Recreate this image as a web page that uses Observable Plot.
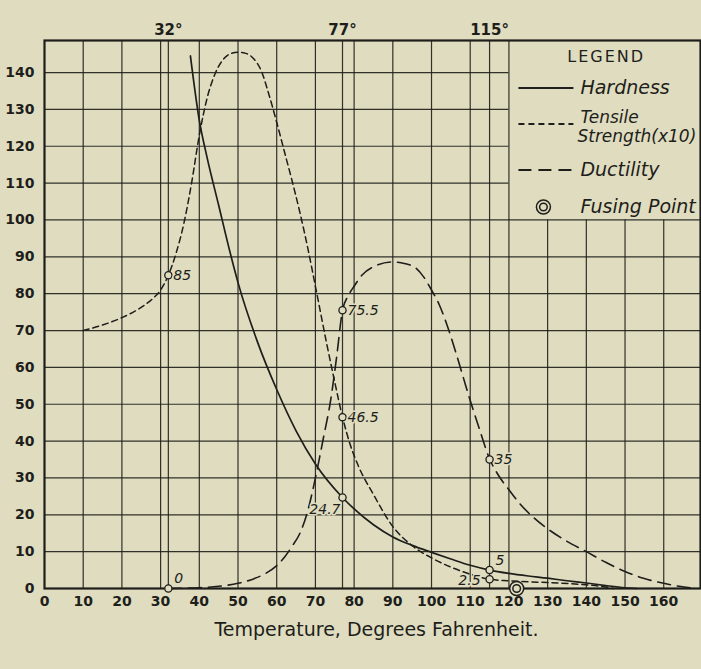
<!DOCTYPE html>
<html><head><meta charset="utf-8">
<script src="https://cdn.jsdelivr.net/npm/d3@7"></script>
<script src="https://cdn.jsdelivr.net/npm/@observablehq/plot@0.6"></script>
<style>
html,body{margin:0;padding:0;background:#dfdcc0;}
#chart svg{display:block;}
</style>
</head><body><div id="chart"></div>
<script>
// ---- data ----
const hardnessT = [37.7, 40, 42, 45, 48, 50, 55, 60, 65, 70, 77, 80, 85, 90, 95, 100, 105, 110, 115, 120, 125, 130, 135, 140, 145, 150, 153];
const hardnessV = [144.5, 127, 117, 104, 91, 83, 67, 54, 42.8, 33.8, 24.7, 21.6, 17.3, 14, 11.7, 9.8, 8.0, 6.3, 5, 4.1, 3.4, 2.8, 2.1, 1.5, 0.8, 0.2, 0];

const tensileT = [10, 15, 20, 25, 28, 30, 32, 34, 36, 38, 40, 42, 44, 46, 48, 50, 52, 54, 56, 58, 60, 62, 64, 66, 68, 70, 73, 75, 77, 79, 81, 85, 90, 95, 100, 105, 110, 115, 120, 130, 140, 145, 147];
const tensileV = [70, 71.5, 73.5, 76.3, 78.7, 81, 85, 91, 99, 110, 123, 133, 139.5, 143.3, 145.1, 145.5, 145.2, 143.8, 140.5, 134, 126.5, 118.5, 110.5, 102, 92.5, 82, 66, 56, 46.5, 39, 33.5, 25.5, 16.8, 11.6, 8.3, 5.8, 3.9, 2.5, 2.1, 1.6, 1, 0.4, 0];

const ductilityT = [32, 40, 45, 50, 54, 57, 60, 62, 64, 66, 68, 70, 72, 74, 75.5, 77, 78.5, 80, 82, 85, 90, 93, 96, 98, 100, 102, 104, 106, 108, 110, 112, 115, 117, 120, 123, 126, 130, 135, 140, 145, 150, 155, 160, 164, 168];
const ductilityV = [0, 0.2, 0.6, 1.4, 2.6, 4, 6.2, 8.5, 11.5, 15, 21, 30, 40.5, 51.5, 63, 75.5, 79.5, 82, 85, 87.3, 88.6, 88.2, 86.9, 84.5, 81, 77, 71.5, 65, 58, 51, 44.5, 35.2, 31.2, 26.8, 22.8, 19.6, 16.2, 12.8, 10, 7.1, 4.6, 2.7, 1.4, 0.6, 0];

const annoT = [32, 32, 77, 77, 77, 115, 115, 115];
const annoV = [85, 0, 75.5, 46.5, 24.7, 35, 5, 2.5];
const annoLabel = ["85", "0", "75.5", "46.5", "24.7", "35", "5", "2.5"];

const fusingT = [122];
const fusingV = [0];

const xTicks = [0, 10, 20, 30, 40, 50, 60, 70, 80, 90, 100, 110, 120, 130, 140, 150, 160];
const topTicks = [32, 77, 115];
const yTicks = [0, 10, 20, 30, 40, 50, 60, 70, 80, 90, 100, 110, 120, 130, 140];
const extraGridX = [32, 77, 115];

const legendNames = ["Hardness", "Tensile|Strength(x10)", "Ductility", "Fusing Point"];
const titleText = "Temperature, Degrees Fahrenheit.";

// ---- build ----
const bg = "#dfdcc0", ink = "#1e1e1a";
const zip = (T, V) => T.map((t, i) => ({t, v: V[i]}));
const hardness = zip(hardnessT, hardnessV);
const tensile = zip(tensileT, tensileV);
const ductility = zip(ductilityT, ductilityV);
const annos = annoT.map((t, i) => ({t, v: annoV[i], label: annoLabel[i]}));
const fusing = zip(fusingT, fusingV);

const legendX = 120, legendY = 100;
const gridX = xTicks.filter(d => d > 0).concat(extraGridX);
const gridY = yTicks.filter(d => d > 0);

const place = {
  right: d => ["85", "75.5", "46.5", "35"].includes(d.label),
  upright: d => ["0", "5"].includes(d.label),
  leftbelow: d => d.label === "24.7",
  left: d => d.label === "2.5"
};
const annoFont = {fontSize: 14, fontStyle: "italic", fill: ink, stroke: bg, strokeWidth: 3, paintOrder: "stroke"};
const gridStyle = {stroke: ink, strokeWidth: 1.2, strokeOpacity: 0.9};

const plot = Plot.plot({
  width: 701, height: 669,
  marginLeft: 44, marginRight: 1, marginTop: 40, marginBottom: 81,
  x: {domain: [0, 169.5]},
  y: {domain: [0, 148.7]},
  style: {background: bg, color: ink, fontFamily: "DejaVu Sans, sans-serif", fontSize: "14px", overflow: "visible"},
  marks: [
    // grid
    Plot.ruleX(gridX.filter(d => d <= legendX), {x: d => d, ...gridStyle}),
    Plot.ruleX(gridX.filter(d => d > legendX), {x: d => d, y1: 0, y2: legendY, ...gridStyle}),
    Plot.ruleY(gridY.filter(d => d <= legendY), {y: d => d, ...gridStyle}),
    Plot.ruleY(gridY.filter(d => d > legendY), {y: d => d, x1: 0, x2: legendX, ...gridStyle}),
    Plot.frame({stroke: ink, strokeWidth: 2.2}),
    // curves
    Plot.line(hardness, {x: "t", y: "v", curve: "monotone-x", stroke: ink, strokeWidth: 1.7}),
    Plot.line(tensile, {x: "t", y: "v", curve: "monotone-x", stroke: ink, strokeWidth: 1.5, strokeDasharray: "6,4"}),
    Plot.line(ductility, {x: "t", y: "v", curve: "monotone-x", stroke: ink, strokeWidth: 1.6, strokeDasharray: "13,7"}),
    // annotation points
    Plot.dot(annos, {x: "t", y: "v", r: 3.6, fill: bg, stroke: ink, strokeWidth: 1.3}),
    Plot.text(annos.filter(place.right), {x: "t", y: "v", text: "label", dx: 5, textAnchor: "start", ...annoFont}),
    Plot.text(annos.filter(place.upright), {x: "t", y: "v", text: "label", dx: 6, dy: -10, textAnchor: "start", ...annoFont}),
    Plot.text(annos.filter(place.leftbelow), {x: "t", y: "v", text: "label", dx: -2, dy: 12, textAnchor: "end", ...annoFont}),
    Plot.text(annos.filter(place.left), {x: "t", y: "v", text: "label", dx: -9, dy: 1, textAnchor: "end", ...annoFont}),
    // fusing point
    Plot.dot(fusing, {x: "t", y: "v", r: 7, fill: bg, stroke: ink, strokeWidth: 1.5}),
    Plot.dot(fusing, {x: "t", y: "v", r: 3.8, fill: "none", stroke: ink, strokeWidth: 1.5}),
    // axes
    Plot.axisX({anchor: "bottom", ticks: xTicks, tickSize: 0, tickPadding: 8, label: null, fontSize: 14, fontWeight: 600}),
    Plot.axisX({anchor: "top", ticks: topTicks, tickSize: 0, tickPadding: 6, label: null, tickFormat: d => d + "°", fontSize: 15, fontWeight: 600}),
    Plot.axisY({anchor: "left", ticks: yTicks, tickSize: 0, tickPadding: 10, label: null, fontSize: 14, fontWeight: 600}),
    Plot.text([titleText], {frameAnchor: "bottom", dy: 47, dx: 4, fontSize: 19, fill: ink})
  ]
});

// ---- legend (drawn inside the reserved box) ----
const sx = plot.scale("x"), sy = plot.scale("y");
const L = sx.apply(legendX), T = sy.apply(sy.domain[1]), R = sx.apply(sx.domain[1]);
const svg = d3.select(plot);
const g = svg.append("g").attr("fill", ink).attr("font-family", "DejaVu Sans, sans-serif").attr("text-anchor", "start");
g.append("text").attr("x", (L + R) / 2 + 2).attr("y", T + 17).attr("dominant-baseline", "middle")
  .attr("text-anchor", "middle").attr("font-size", 16).attr("letter-spacing", 2).text("LEGEND");
const rows = [
  {y: T + 48, dash: null},
  {y: T + 84, dash: "6,4"},
  {y: T + 130, dash: "13,7"},
  {y: T + 167, dash: "ring"}
];
legendNames.forEach((name, i) => {
  const r = rows[i];
  if (r.dash === "ring") {
    g.append("circle").attr("cx", L + 35).attr("cy", r.y).attr("r", 7).attr("fill", "none").attr("stroke", ink).attr("stroke-width", 1.5);
    g.append("circle").attr("cx", L + 35).attr("cy", r.y).attr("r", 3.8).attr("fill", "none").attr("stroke", ink).attr("stroke-width", 1.5);
  } else {
    const ln = g.append("line").attr("x1", L + 10).attr("x2", L + 65).attr("y1", r.y).attr("y2", r.y)
      .attr("stroke", ink).attr("stroke-width", 1.8);
    if (r.dash) ln.attr("stroke-dasharray", r.dash);
  }
  const parts = name.split("|");
  parts.forEach((p, j) => {
    const yy = parts.length > 1 ? r.y - 6 + j * 19 : r.y;
    g.append("text").attr("x", L + 72 - (parts.length > 1 ? 3 * j : 0)).attr("y", yy).attr("dominant-baseline", "middle")
      .attr("text-anchor", "start")
      .attr("font-size", parts.length > 1 ? 17 : 19).attr("font-style", "italic").text(p);
  });
});

document.getElementById("chart").appendChild(plot);
</script>
</body></html>
